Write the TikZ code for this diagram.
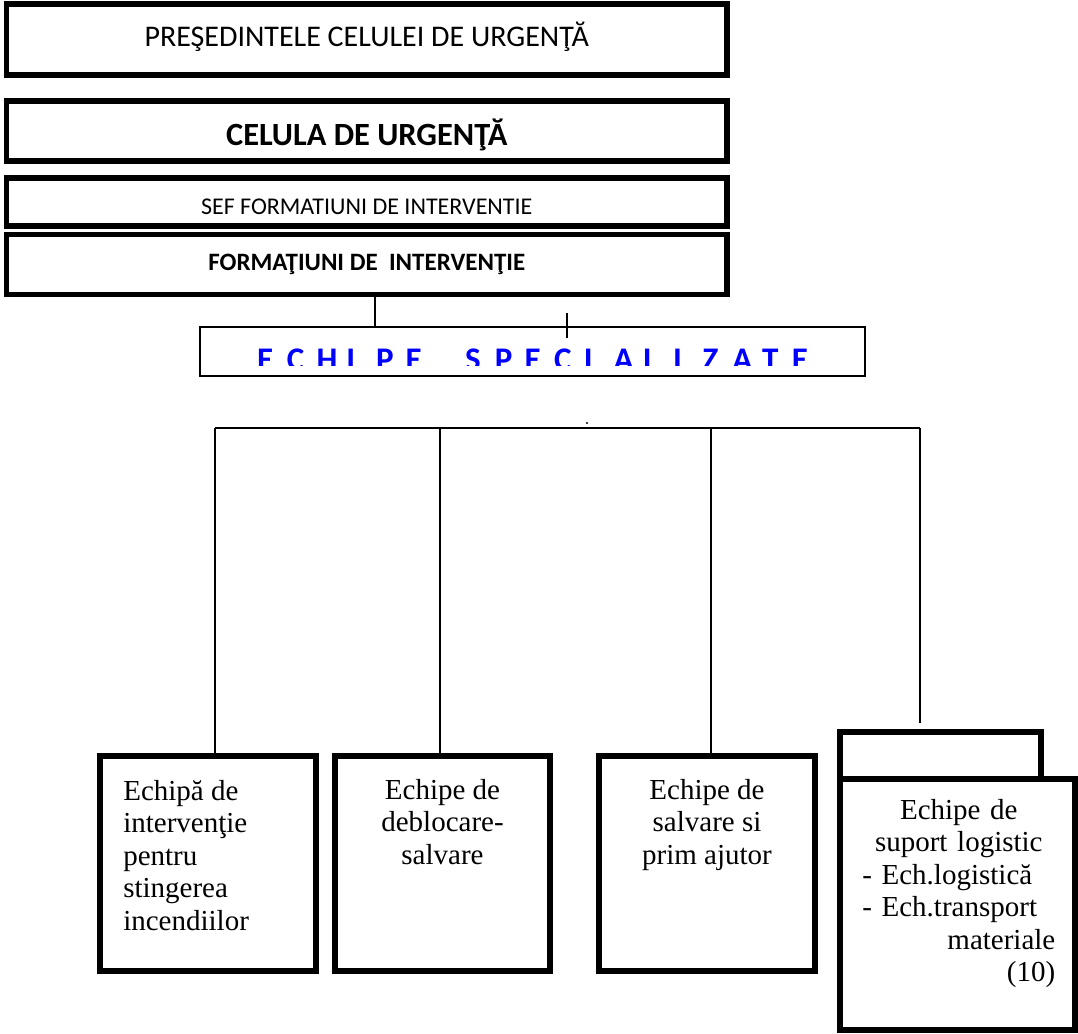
\documentclass[tikz,border=0pt]{standalone}
\usepackage{fontspec}
\setmainfont{Liberation Serif}
\newfontfamily\calibri{Carlito}
\usetikzlibrary{positioning}

\begin{document}
\begin{tikzpicture}[x=1pt,y=-1pt,
  heavy box/.style={draw,line width=5.8pt,inner sep=0pt},
  head box/.style={heavy box,minimum width=720.5pt},
  team box/.style={heavy box,minimum width=216pt,minimum height=215pt},
  team text/.style={inner sep=0pt,font=\fontsize{29}{32.5}\selectfont},
  link/.style={line width=2pt}]

  \useasboundingbox (0,0) rectangle (1078,1033);

  \node[head box,minimum height=71pt,text height=20pt,text depth=5pt,
    font=\calibri\fontsize{30}{36}\selectfont] (pres) at (366.75,39.5)
    {PREŞEDINTELE CELULEI DE URGENŢĂ};
  \node[head box,minimum height=60pt,text height=28pt,text depth=0pt,
    font=\calibri\bfseries\fontsize{32.4}{38}\selectfont] (celula) at (366.75,131)
    {CELULA DE URGENŢĂ};
  \node[head box,minimum height=48pt,text height=24pt,text depth=0pt,
    font=\calibri\fontsize{24}{29}\selectfont] (sef) at (366.75,202)
    {SEF FORMATIUNI DE INTERVENTIE};
  \node[head box,minimum height=60pt,text height=15pt,text depth=3.5pt,
    font=\calibri\bfseries\fontsize{25}{30}\selectfont] (form) at (366.75,264.5)
    {FORMAŢIUNI DE~ INTERVENŢIE};

  \node[draw,line width=2.5pt,minimum width=665pt,minimum height=49pt] (spec) at (532.5,351.5) {};
  \begin{scope}
    \clip (spec.north west) rectangle (865,365);
    \foreach \l [count=\i] in {E,C,H,I,P,E,{},S,P,E,C,I,A,L,I,Z,A,T,E}
      \node[anchor=base west,inner sep=0pt,text=blue,
        font=\calibri\bfseries\fontsize{33}{39}\selectfont] (ltr\i) at (227.3+29.7*\i,370.5) {\l};
  \end{scope}

  \node[team box] (fire) at (208,863.5) {};
  \node[team box,minimum width=215pt] (debl) at (442.5,863.5) {};
  \node[team box] (prim) at (707,863.5) {};
  \node[heavy box,minimum width=201pt,minimum height=47pt] (tab) at (940.5,755.5) {};
  \node[heavy box,minimum width=235pt,minimum height=251pt] (logi) at (957.5,904.5) {};

  \node[team text,align=left,below right=27pt and 26pt of fire.north west] (fireT)
    {Echipă de\\intervenţie\\pentru\\stingerea\\incendiilor};
  \node[team text,align=center,below=26pt of debl.north] (deblT)
    {Echipe de\\deblocare-\\salvare};
  \node[team text,align=center,below=26pt of prim.north] (primT)
    {Echipe de\\salvare si\\prim ajutor};
  \node[team text,text width=193pt,align=left,below right=23pt and 25pt of logi.north west] (logiT)
    {\makebox[193pt][c]{Echipe de}\\
     \makebox[193pt][c]{suport logistic}\\
     \makebox[193pt][l]{- Ech.logistică}\\
     \makebox[193pt][l]{- Ech.transport}\\
     \makebox[193pt][r]{materiale}\\
     \makebox[193pt][r]{(10)}};

  \coordinate (drop) at (375,0);
  \coordinate (tickA) at (567,313);
  \coordinate (tickB) at (567,338);
  \coordinate (j1) at (215,428);
  \coordinate (j2) at (440,428);
  \coordinate (j3) at (711,428);
  \coordinate (j4) at (920,428);
  \coordinate (end4) at (920,723);

  \path[link]
   (form.south -| drop) edge (spec.north -| drop)
   (tickA) edge (tickB)
   (j1) edge (j4)
   (j1) edge (j1 |- fire.north)
   (j2) edge (j2 |- debl.north)
   (j3) edge (j3 |- prim.north)
   (j4) edge (end4);
  \fill (587,423) circle (1.2pt);
\end{tikzpicture}
\end{document}
